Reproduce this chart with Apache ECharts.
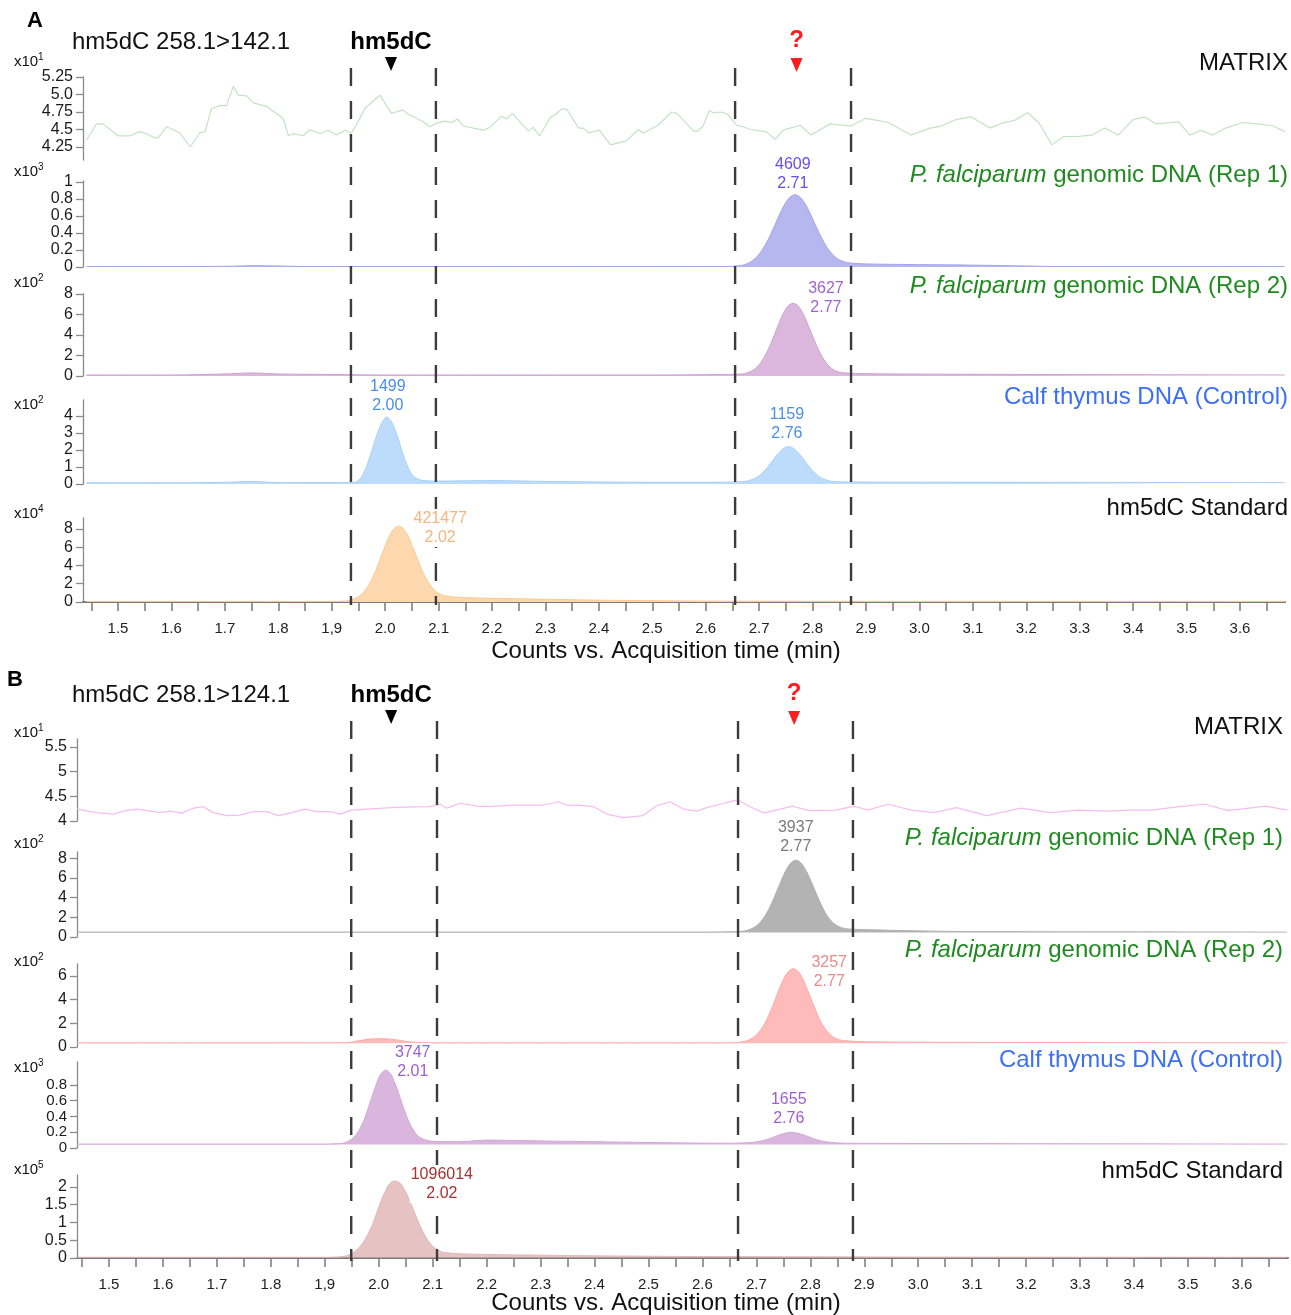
<!DOCTYPE html>
<html>
<head>
<meta charset="utf-8">
<script src="https://cdn.jsdelivr.net/npm/echarts@6/dist/echarts.min.js"></script>
<style>
html, body { margin: 0; padding: 0; background: #fff; }
#chart { width: 1291px; height: 1315px; }
</style>
</head>
<body>
<div id="chart"></div>
<script>
// ---- data ----
var xTickValues = [1.45, 1.5, 1.55, 1.6, 1.65, 1.7, 1.75, 1.8, 1.85, 1.9, 1.95, 2.0, 2.05, 2.1, 2.15, 2.2, 2.25, 2.3, 2.35, 2.4, 2.45, 2.5, 2.55, 2.6, 2.65, 2.7, 2.75, 2.8, 2.85, 2.9, 2.95, 3.0, 3.05, 3.1, 3.15, 3.2, 3.25, 3.3, 3.35, 3.4, 3.45, 3.5, 3.55, 3.6, 3.65];
var xLabelValues = [1.5, 1.6, 1.7, 1.8, 1.9, 2.0, 2.1, 2.2, 2.3, 2.4, 2.5, 2.6, 2.7, 2.8, 2.9, 3.0, 3.1, 3.2, 3.3, 3.4, 3.5, 3.6];
var xLabelText = ['1.5', '1.6', '1.7', '1.8', '1,9', '2.0', '2.1', '2.2', '2.3', '2.4', '2.5', '2.6', '2.7', '2.8', '2.9', '3.0', '3.1', '3.2', '3.3', '3.4', '3.5', '3.6'];
var xAxisTitle = 'Counts vs. Acquisition time (min)';

var sampleNames = ['MATRIX', '{it|P. falciparum} genomic DNA (Rep 1)', '{it|P. falciparum} genomic DNA (Rep 2)', 'Calf thymus DNA (Control)', 'hm5dC Standard'];
var sampleColors = ['#111111', '#1f8a1f', '#1f8a1f', '#3b6ff5', '#111111'];

var yTicksA = [[4.25, 4.5, 4.75, 5.0, 5.25], [0, 0.2, 0.4, 0.6, 0.8, 1], [0, 2, 4, 6, 8], [0, 1, 2, 3, 4], [0, 2, 4, 6, 8]];
var yLabelsA = [['4.25', '4.5', '4.75', '5.0', '5.25'], ['0', '0.2', '0.4', '0.6', '0.8', '1'], ['0', '2', '4', '6', '8'], ['0', '1', '2', '3', '4'], ['0', '2', '4', '6', '8']];
var yTicksB = [[4, 4.5, 5, 5.5], [0, 2, 4, 6, 8], [0, 2, 4, 6], [0, 0.2, 0.4, 0.6, 0.8], [0, 0.5, 1, 1.5, 2]];
var yLabelsB = [['4', '4.5', '5', '5.5'], ['0', '2', '4', '6', '8'], ['0', '2', '4', '6'], ['0', '0.2', '0.4', '0.6', '0.8'], ['0', '0.5', '1', '1.5', '2']];
var scaleExpA = ['1', '3', '2', '2', '4'];
var scaleExpB = ['1', '2', '2', '3', '5'];

// dashed retention windows (min)
var windowA = [1.936, 2.095, 2.655, 2.872];
var windowB = [1.949, 2.108, 2.666, 2.879];
var hm5dCTimeA = 2.011, hm5dCTimeB = 2.023;
var unknownTime = 2.77;

// peak annotations: area / retention time
var peakAreaA = ['4609', '3627', '1499', '1159', '421477'];
var peakRtA = ['2.71', '2.77', '2.00', '2.76', '2.02'];
var peakAreaB = ['3937', '3257', '3747', '1655', '1096014'];
var peakRtB = ['2.77', '2.77', '2.01', '2.76', '2.02'];

// traces, [time, counts in axis units]
var matrixA = [[1.441,4.35],[1.46,4.58],[1.472,4.58],[1.50,4.41],[1.522,4.41],[1.541,4.47],[1.55,4.45],[1.569,4.38],[1.575,4.38],[1.591,4.54],[1.616,4.45],[1.635,4.25],[1.653,4.45],[1.663,4.47],[1.675,4.80],[1.691,4.84],[1.703,4.84],[1.716,5.12],[1.725,4.99],[1.741,4.98],[1.753,4.88],[1.778,4.83],[1.809,4.66],[1.819,4.41],[1.828,4.44],[1.847,4.41],[1.859,4.50],[1.878,4.44],[1.893,4.49],[1.909,4.42],[1.925,4.49],[1.937,4.45],[1.947,4.58],[1.962,4.80],[1.99,4.99],[2.012,4.73],[2.033,4.78],[2.043,4.72],[2.071,4.61],[2.084,4.54],[2.096,4.59],[2.112,4.62],[2.125,4.60],[2.135,4.65],[2.146,4.55],[2.165,4.52],[2.184,4.49],[2.196,4.53],[2.218,4.69],[2.227,4.65],[2.238,4.73],[2.268,4.48],[2.277,4.53],[2.289,4.41],[2.309,4.67],[2.318,4.71],[2.33,4.79],[2.34,4.79],[2.362,4.52],[2.371,4.52],[2.382,4.45],[2.401,4.49],[2.422,4.28],[2.452,4.34],[2.474,4.50],[2.483,4.45],[2.511,4.56],[2.536,4.75],[2.546,4.73],[2.577,4.48],[2.586,4.48],[2.595,4.55],[2.607,4.77],[2.614,4.74],[2.63,4.75],[2.642,4.71],[2.658,4.56],[2.67,4.54],[2.683,4.50],[2.713,4.47],[2.73,4.36],[2.745,4.49],[2.777,4.56],[2.797,4.42],[2.833,4.58],[2.872,4.55],[2.90,4.66],[2.942,4.60],[2.984,4.42],[3.02,4.52],[3.037,4.54],[3.068,4.64],[3.097,4.68],[3.132,4.52],[3.154,4.59],[3.178,4.63],[3.203,4.74],[3.224,4.59],[3.248,4.28],[3.27,4.40],[3.295,4.40],[3.323,4.42],[3.347,4.52],[3.372,4.42],[3.40,4.64],[3.422,4.68],[3.443,4.58],[3.485,4.61],[3.506,4.42],[3.527,4.49],[3.549,4.42],[3.573,4.52],[3.605,4.60],[3.633,4.58],[3.662,4.55],[3.684,4.47]];
var rep1A = [[1.441,0.005],[1.70,0.008],[1.76,0.016],[1.80,0.012],[1.85,0.006],[2.60,0.005],[2.65,0.008],[2.667,0.018],[2.677,0.037],[2.687,0.072],[2.697,0.128],[2.707,0.212],[2.717,0.324],[2.727,0.458],[2.737,0.60],[2.747,0.729],[2.757,0.818],[2.767,0.85],[2.777,0.82],[2.787,0.735],[2.797,0.61],[2.807,0.47],[2.817,0.34],[2.827,0.23],[2.837,0.15],[2.847,0.095],[2.857,0.065],[2.87,0.047],[2.90,0.036],[3.00,0.028],[3.10,0.022],[3.20,0.012],[3.25,0.006],[3.684,0.005]];
var rep2A = [[1.441,0.1],[1.60,0.1],[1.70,0.2],[1.75,0.3],[1.80,0.2],[1.90,0.15],[2.00,0.1],[2.50,0.1],[2.60,0.13],[2.66,0.18],[2.673,0.23],[2.683,0.41],[2.693,0.74],[2.703,1.3],[2.713,2.17],[2.723,3.3],[2.733,4.62],[2.743,5.86],[2.753,6.76],[2.763,7.1],[2.773,6.85],[2.783,6.0],[2.793,4.8],[2.803,3.5],[2.813,2.35],[2.823,1.45],[2.833,0.85],[2.843,0.5],[2.855,0.32],[2.88,0.25],[2.95,0.2],[3.20,0.15],[3.684,0.1]];
var calfA = [[1.441,0.07],[1.60,0.07],[1.70,0.1],[1.75,0.15],[1.80,0.08],[1.93,0.08],[1.943,0.1],[1.953,0.3],[1.963,0.85],[1.973,1.75],[1.983,2.75],[1.993,3.55],[2.003,3.94],[2.013,3.6],[2.023,2.8],[2.033,1.8],[2.043,0.95],[2.053,0.45],[2.063,0.26],[2.073,0.2],[2.09,0.17],[2.20,0.2],[2.30,0.15],[2.40,0.12],[2.50,0.1],[2.60,0.1],[2.66,0.12],[2.675,0.16],[2.685,0.24],[2.695,0.38],[2.705,0.62],[2.715,0.96],[2.725,1.37],[2.735,1.77],[2.745,2.08],[2.755,2.2],[2.765,2.08],[2.775,1.77],[2.785,1.37],[2.795,0.96],[2.805,0.62],[2.815,0.38],[2.825,0.24],[2.835,0.16],[2.86,0.12],[3.20,0.1],[3.684,0.08]];
var stdA = [[1.441,0.05],[1.90,0.05],[1.925,0.1],[1.935,0.2],[1.945,0.41],[1.955,0.8],[1.965,1.47],[1.975,2.48],[1.985,3.83],[1.995,5.37],[2.005,6.85],[2.015,7.9],[2.025,8.3],[2.035,7.95],[2.045,6.95],[2.055,5.55],[2.065,4.05],[2.075,2.75],[2.085,1.8],[2.095,1.15],[2.105,0.8],[2.12,0.6],[2.15,0.48],[2.20,0.4],[2.30,0.3],[2.40,0.2],[2.50,0.15],[2.60,0.1],[3.00,0.07],[3.684,0.05]];

var matrixB = [[1.441,4.24],[1.477,4.17],[1.508,4.14],[1.527,4.2],[1.551,4.24],[1.595,4.17],[1.613,4.2],[1.635,4.16],[1.656,4.26],[1.675,4.29],[1.693,4.17],[1.718,4.11],[1.743,4.12],[1.767,4.19],[1.792,4.19],[1.814,4.11],[1.835,4.16],[1.863,4.24],[1.885,4.19],[1.91,4.19],[1.928,4.14],[1.95,4.22],[1.978,4.24],[2.039,4.28],[2.095,4.29],[2.114,4.34],[2.126,4.26],[2.151,4.36],[2.182,4.30],[2.203,4.29],[2.249,4.32],[2.293,4.32],[2.302,4.32],[2.333,4.39],[2.351,4.31],[2.367,4.32],[2.398,4.29],[2.423,4.14],[2.453,4.07],[2.49,4.11],[2.515,4.31],[2.54,4.39],[2.565,4.24],[2.589,4.20],[2.608,4.27],[2.633,4.34],[2.665,4.43],[2.685,4.31],[2.714,4.16],[2.767,4.30],[2.798,4.21],[2.847,4.22],[2.882,4.30],[2.906,4.22],[2.945,4.34],[2.987,4.22],[3.029,4.17],[3.071,4.27],[3.127,4.11],[3.19,4.26],[3.245,4.17],[3.294,4.22],[3.35,4.20],[3.392,4.22],[3.433,4.22],[3.483,4.29],[3.532,4.34],[3.574,4.21],[3.644,4.30],[3.684,4.22]];
var rep1B = [[1.441,0.5],[2.60,0.5],[2.67,0.55],[2.683,0.68],[2.693,0.89],[2.703,1.27],[2.713,1.89],[2.723,2.81],[2.733,4.0],[2.743,5.33],[2.753,6.57],[2.763,7.47],[2.773,7.8],[2.783,7.5],[2.793,6.65],[2.803,5.45],[2.813,4.15],[2.823,2.95],[2.833,2.0],[2.843,1.4],[2.853,1.05],[2.865,0.85],[2.90,0.75],[3.00,0.62],[3.10,0.55],[3.684,0.5]];
var rep2B = [[1.441,0.35],[1.94,0.36],[1.96,0.5],[1.98,0.65],[2.00,0.7],[2.02,0.68],[2.04,0.55],[2.06,0.42],[2.10,0.35],[2.65,0.35],[2.668,0.4],[2.678,0.47],[2.688,0.63],[2.698,0.92],[2.708,1.43],[2.718,2.19],[2.728,3.21],[2.738,4.38],[2.748,5.49],[2.758,6.3],[2.768,6.6],[2.778,6.35],[2.788,5.55],[2.798,4.45],[2.808,3.3],[2.818,2.25],[2.828,1.5],[2.838,1.0],[2.848,0.7],[2.86,0.55],[2.90,0.45],[3.00,0.4],[3.684,0.35]];
var calfB = [[1.441,0.05],[1.90,0.05],[1.933,0.06],[1.943,0.083],[1.953,0.13],[1.963,0.22],[1.973,0.36],[1.983,0.56],[1.993,0.76],[2.003,0.93],[2.013,0.99],[2.023,0.93],[2.033,0.77],[2.043,0.57],[2.053,0.38],[2.063,0.24],[2.073,0.15],[2.083,0.11],[2.10,0.085],[2.15,0.08],[2.20,0.1],[2.30,0.09],[2.40,0.08],[2.50,0.07],[2.65,0.06],[2.69,0.07],[2.71,0.09],[2.725,0.12],[2.74,0.16],[2.755,0.19],[2.765,0.2],[2.775,0.19],[2.79,0.16],[2.805,0.12],[2.82,0.09],[2.84,0.07],[2.87,0.06],[3.684,0.05]];
var stdB = [[1.441,0.02],[1.90,0.02],[1.93,0.035],[1.94,0.06],[1.95,0.13],[1.96,0.24],[1.97,0.41],[1.98,0.67],[1.99,1.0],[2.00,1.43],[2.01,1.81],[2.02,2.09],[2.03,2.17],[2.04,2.1],[2.05,1.86],[2.06,1.52],[2.07,1.14],[2.08,0.8],[2.09,0.52],[2.10,0.33],[2.11,0.22],[2.12,0.16],[2.15,0.12],[2.20,0.1],[2.30,0.08],[2.40,0.06],[2.50,0.05],[2.60,0.04],[3.10,0.025],[3.684,0.02]];

// ---- layout / style ----
var FONT = '"Liberation Sans", Arial, sans-serif';
var panels = [
  {
    letter: 'A', title: 'hm5dC 258.1>142.1',
    left: 83, width: 1202, xMin: 1.4345, xMax: 3.6842,
    tops: [77, 181, 294, 400, 518], bottoms: [160, 267, 376, 484, 602],
    yRange: [[4.064, 5.25], [0, 1.012], [0, 8.0], [0, 4.94], [0, 9.18]],
    yFont: [16, 16, 16, 16, 16],
    yTicks: yTicksA, yLabels: yLabelsA, scaleExp: scaleExpA,
    scaleY: [62, 172, 283, 405, 514], nameY: [63, 175, 286, 397, 508], nameRight: 1288,
    traces: [matrixA, rep1A, rep2A, calfA, stdA],
    lineColors: ['#c3e4c3', '#a3a3ea', '#cf9fd3', '#a6cff7', '#fbca94'],
    fillColors: [null, '#b7b7ef', '#dcb7dd', '#bddcfb', '#fdd7ae'],
    fillOrigin: [null, 0, 0, 0, 0],
    windowT: windowA, hm5dCT: hm5dCTimeA,
    headerY: 42, markY: 57, winTop: 68,
    letterPos: [35, 21], titleAxisY: 651,
    peaks: [
      { g: 1, at: [2.763, 0.87], color: '#6a4cf2' },
      { g: 2, at: [2.825, 5.76], color: '#a064cc' },
      { g: 3, at: [2.005, 4.06], color: '#4a8fe6' },
      { g: 3, at: [2.752, 2.41], color: '#4a8fe6' },
      { g: 4, at: [2.103, 6.0], color: '#f6b57c' }
    ],
    area: peakAreaA, rt: peakRtA
  },
  {
    letter: 'B', title: 'hm5dC 258.1>124.1',
    left: 77, width: 1211, xMin: 1.4407, xMax: 3.6854,
    tops: [739, 852, 964, 1062, 1175], bottoms: [821, 937, 1047, 1148, 1258],
    yRange: [[4, 5.663], [0, 8.63], [0, 7.0], [0, 1.092], [0, 2.338]],
    yFont: [16, 16, 16, 15, 16],
    yTicks: yTicksB, yLabels: yLabelsB, scaleExp: scaleExpB,
    scaleY: [733, 844, 962, 1068, 1170], nameY: [727, 838, 950, 1060, 1171], nameRight: 1283,
    traces: [matrixB, rep1B, rep2B, calfB, stdB],
    lineColors: ['#f6bcf1', '#b0b0b0', '#ffa9a9', '#d2a8d8', '#e2b6b6'],
    fillColors: [null, '#b3b3b3', '#ffbaba', '#dab5de', '#e7c2c2'],
    fillOrigin: [null, 0.45, 0.32, 0.045, 0.015],
    windowT: windowB, hm5dCT: hm5dCTimeB,
    headerY: 695, markY: 710, winTop: 721,
    letterPos: [15, 680], titleAxisY: 1303,
    peaks: [
      { g: 1, at: [2.773, 8.2], color: '#7a7a7a' },
      { g: 2, at: [2.835, 4.7], color: '#ea8a8a' },
      { g: 3, at: [2.063, 0.85], color: '#9d5fd6' },
      { g: 3, at: [2.76, 0.25], color: '#9d5fd6' },
      { g: 4, at: [2.117, 1.55], color: '#a83232' }
    ],
    area: peakAreaB, rt: peakRtB
  }
];

function pickLabel(ticks, labels, v) {
  for (var i = 0; i < ticks.length; i++) {
    if (Math.abs(ticks[i] - v) < 1e-6) return labels[i];
  }
  return '';
}

var grids = [], xAxes = [], yAxes = [], series = [];
panels.forEach(function (p, k) {
  for (var i = 0; i < 5; i++) {
    var gi = k * 5 + i;
    var last = (i === 4);
    grids.push({
      left: p.left, top: p.tops[i], width: p.width, height: p.bottoms[i] - p.tops[i],
      containLabel: false, outerBoundsMode: 'none'
    });
    xAxes.push({
      type: 'value', gridIndex: gi, min: p.xMin, max: p.xMax, show: last,
      offset: 5,
      axisLine: { show: true, lineStyle: { color: '#7a7a7a', width: 2 } },
      axisTick: { show: true, customValues: xTickValues, length: 9, lineStyle: { color: '#7a7a7a', width: 1.5 } },
      axisLabel: {
        show: true, customValues: xLabelValues, margin: 14, fontSize: 15, color: '#222', fontFamily: FONT,
        interval: 0, showMinLabel: true, showMaxLabel: true, hideOverlap: false,
        formatter: function (v) { return pickLabel(xLabelValues, xLabelText, v); }
      },
      splitLine: { show: false }
    });
    (function (ticks, labels) {
      yAxes.push({
        type: 'value', gridIndex: gi, min: p.yRange[i][0], max: p.yRange[i][1],
        axisLine: { show: true, lineStyle: { color: '#8a8a8a', width: 1.3 } },
        axisTick: { show: true, customValues: ticks, length: 7, lineStyle: { color: '#8a8a8a', width: 1.3 } },
        axisLabel: {
          show: true, customValues: ticks, margin: 10, fontSize: p.yFont[i], lineHeight: 12, color: '#1a1a1a', fontFamily: FONT,
          interval: 0, showMinLabel: true, showMaxLabel: true, hideOverlap: false,
          formatter: function (v) { return pickLabel(ticks, labels, v); }
        },
        splitLine: { show: false }
      });
    })(p.yTicks[i], p.yLabels[i]);
    var s = {
      type: 'line', xAxisIndex: gi, yAxisIndex: gi, data: p.traces[i],
      showSymbol: false, silent: true,
      lineStyle: { color: p.lineColors[i], width: i === 0 ? 1.2 : 1 }
    };
    if (p.fillColors[i]) {
      s.smooth = 0.3;
      s.areaStyle = { color: p.fillColors[i], opacity: 1, origin: p.fillOrigin[i] };
    }
    series.push(s);
  }
});

var chart = echarts.init(document.getElementById('chart'));
chart.setOption({
  animation: false,
  backgroundColor: '#ffffff',
  grid: grids,
  xAxis: xAxes,
  yAxis: yAxes,
  series: series
});

// ---- annotations placed through the axes ----
var graphics = [];
function txt(x, y, text, opt) {
  var st = {
    text: text, x: x, y: y, fill: opt.fill || '#111',
    fontSize: opt.size || 16, fontFamily: FONT, fontWeight: opt.weight || 'normal',
    textAlign: opt.align || 'left', textVerticalAlign: opt.valign || 'middle'
  };
  if (opt.rich) st.rich = opt.rich;
  if (opt.lineHeight) st.lineHeight = opt.lineHeight;
  if (opt.bg) { st.backgroundColor = opt.bg; st.padding = [0, 1, 0, 1]; }
  graphics.push({ type: 'text', z: 110, style: st });
}

panels.forEach(function (p, k) {
  var g0 = k * 5, g4 = k * 5 + 4;
  function px(t) { return chart.convertToPixel({ xAxisIndex: g4 }, t); }

  txt(p.letterPos[0], p.letterPos[1], p.letter, { size: 22, weight: 'bold', align: 'center', fill: '#000' });
  txt(72, p.headerY, p.title, { size: 24, fill: '#111' });

  // hm5dC marker
  var xh = px(p.hm5dCT);
  txt(xh, p.headerY, 'hm5dC', { size: 24, weight: 'bold', align: 'center', fill: '#000' });
  graphics.push({ type: 'polygon', z: 110, shape: { points: [[xh - 6, p.markY], [xh + 6, p.markY], [xh, p.markY + 14]] }, style: { fill: '#000' } });

  // unknown peak marker
  var xu = px(unknownTime);
  txt(xu, p.headerY - 2, '?', { size: 24, weight: 'bold', align: 'center', fill: '#ff1c1c' });
  graphics.push({ type: 'polygon', z: 110, shape: { points: [[xu - 6, p.markY + 1], [xu + 6, p.markY + 1], [xu, p.markY + 15]] }, style: { fill: '#ff1c1c' } });

  // dashed windows
  p.windowT.forEach(function (t) {
    var x = px(t);
    graphics.push({
      type: 'line', z: 100,
      shape: { x1: x, y1: p.winTop, x2: x, y2: p.bottoms[4] + 3 },
      style: { stroke: '#3c3c3c', lineWidth: 2.4, lineDash: [18, 15] }
    });
  });

  for (var i = 0; i < 5; i++) {
    // scale factor label
    txt(14, p.scaleY[i], 'x10', { size: 15, fill: '#111' });
    txt(38, p.scaleY[i] - 5, p.scaleExp[i], { size: 10, fill: '#111' });
    // sample name
    txt(p.nameRight, p.nameY[i], sampleNames[i], {
      size: 24, align: 'right', fill: sampleColors[i],
      rich: { it: { fontStyle: 'italic', fontSize: 24, fontFamily: FONT, fill: sampleColors[i] } }
    });
  }

  p.peaks.forEach(function (pk, j) {
    var pt = chart.convertToPixel({ gridIndex: g0 + pk.g }, pk.at);
    txt(pt[0], pt[1], p.area[j] + '\n' + p.rt[j], { size: 16, align: 'center', valign: 'bottom', fill: pk.color, lineHeight: 19, bg: '#ffffff' });
  });

  txt(666, p.titleAxisY, xAxisTitle, { size: 24, align: 'center', fill: '#111' });
});

chart.setOption({ graphic: graphics });
</script>
</body>
</html>
